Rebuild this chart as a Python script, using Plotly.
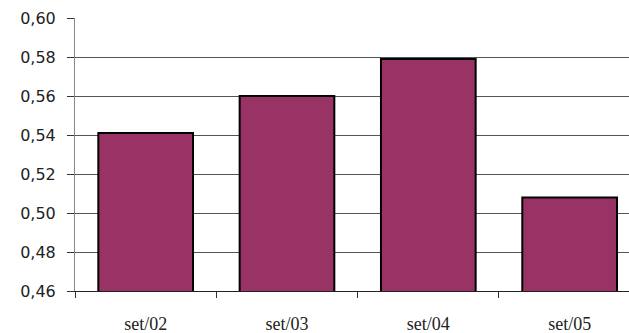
import plotly.graph_objects as go

categories = ["set/02", "set/03", "set/04", "set/05"]
values = [0.541, 0.560, 0.579, 0.508]
y_ticks = [0.46, 0.48, 0.50, 0.52, 0.54, 0.56, 0.58, 0.60]
y_labels = ["0,46", "0,48", "0,50", "0,52", "0,54", "0,56", "0,58", "0,60"]

fig = go.Figure(go.Bar(
    x=categories, y=values,
    marker=dict(color="#993366", line=dict(color="#000000", width=2)),
))

fig.update_layout(
    width=629, height=333,
    margin=dict(l=75, r=0, t=18, b=42),
    paper_bgcolor="white", plot_bgcolor="white",
    bargap=0.33, showlegend=False,
    font=dict(family="DejaVu Sans", size=16, color="#222"),
)
fig.update_xaxes(
    type="category", range=[-0.5, 3.42],
    tickson="boundaries", ticks="outside", ticklen=6, tickcolor="#333",
    showgrid=False, showline=True, linecolor="#222", linewidth=1,
    tickfont=dict(family="Liberation Serif", size=18, color="#222"),
    ticklabelstandoff=16, automargin=False,
)
fig.update_yaxes(
    range=[0.46, 0.60], tickvals=y_ticks, ticktext=y_labels,
    ticks="outside", ticklen=7, tickcolor="#333",
    showgrid=True, gridcolor="#555", gridwidth=1,
    showline=True, linecolor="#888", linewidth=1,
    zeroline=False, ticklabelstandoff=8, automargin=False,
)

fig.write_html("out.html")
